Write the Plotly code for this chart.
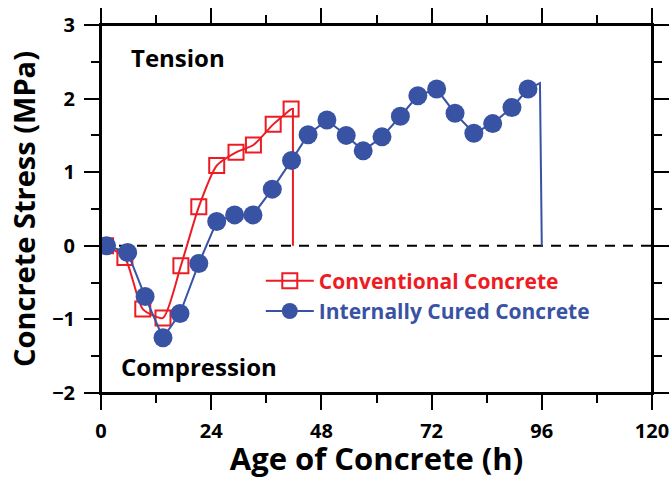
import plotly.graph_objects as go

# Conventional concrete (red squares)
conv_age = [1, 5.2, 9.1, 13.5, 17.4, 21.3, 25.2, 29.4, 33.2, 37.5, 41.4]
conv_stress = [0.0, -0.16, -0.86, -0.98, -0.27, 0.53, 1.09, 1.27, 1.37, 1.65, 1.86]
conv_end_age = [41.4, 41.8, 41.8]
conv_end_stress = [1.86, 1.86, 0.0]

# Internally cured concrete (blue circles)
ic_age = [1.2, 5.8, 9.6, 13.5, 17.2, 21.3, 25.2, 29.1, 33.1, 37.3, 41.5, 45.1,
          49.2, 53.4, 57.1, 61.2, 65.2, 69.0, 73.1, 77.1, 81.2, 85.3, 89.5, 93.0]
ic_stress = [0.0, -0.09, -0.69, -1.25, -0.92, -0.24, 0.33, 0.42, 0.42, 0.77, 1.16, 1.51,
             1.71, 1.50, 1.29, 1.48, 1.76, 2.04, 2.13, 1.80, 1.53, 1.66, 1.88, 2.13]
ic_end_age = [93.0, 95.6, 96.0]
ic_end_stress = [2.13, 2.21, 0.0]

RED = '#ED1C24'
BLUE = '#3953A4'
FONT = 'Open Sans'

fig = go.Figure()

# zero line
fig.add_trace(go.Scatter(x=[0, 120], y=[0, 0], mode='lines',
                         line=dict(color='black', width=2, dash='10px,8px'),
                         showlegend=False, hoverinfo='skip'))

# drop-off lines at end of each test
fig.add_trace(go.Scatter(x=conv_end_age, y=conv_end_stress, mode='lines',
                         line=dict(color=RED, width=2), showlegend=False))
fig.add_trace(go.Scatter(x=ic_end_age, y=ic_end_stress, mode='lines',
                         line=dict(color=BLUE, width=2), showlegend=False))

fig.add_trace(go.Scatter(
    x=conv_age, y=conv_stress, mode='lines+markers',
    name='<span style="color:%s">Conventional Concrete</span>' % RED,
    line=dict(color=RED, width=2, shape='spline', smoothing=0.6),
    marker=dict(symbol='square-open', size=15, color=RED, line=dict(width=2)),
))
fig.add_trace(go.Scatter(
    x=ic_age, y=ic_stress, mode='lines+markers',
    name='<span style="color:%s">Internally Cured Concrete</span>' % BLUE,
    line=dict(color=BLUE, width=2),
    marker=dict(symbol='circle', size=19, color=BLUE),
))

axis_common = dict(
    showline=True, linecolor='black', linewidth=2, mirror='allticks',
    ticks='outside', ticklen=15, tickwidth=2, tickcolor='black',
    showgrid=False, zeroline=False, automargin=False,
    tickfont=dict(family=FONT, size=20, color='black', weight='bold'),
)

fig.update_xaxes(
    range=[0, 120], tickvals=[0, 24, 48, 72, 96, 120],
    minor=dict(ticks='outside', dtick=12, ticklen=8, tickwidth=2, tickcolor='black', showgrid=False),
    ticklabelstandoff=4,
    title=dict(text='Age of Concrete (h)', font=dict(family=FONT, size=31, color='black', weight='bold'),
               standoff=2),
    **axis_common,
)
fig.update_yaxes(
    range=[-2, 3], tickvals=[-2, -1, 0, 1, 2, 3],
    minor=dict(ticks='outside', dtick=0.5, ticklen=8, tickwidth=2, tickcolor='black', showgrid=False),
    ticklabelstandoff=5,
    title=dict(text='Concrete Stress (MPa)', font=dict(family=FONT, size=29, color='black', weight='bold'),
               standoff=8),
    **axis_common,
)

# frame lines overshoot the corners a little
ox = 15 / 551
oy = 15 / 368
for x0, y0, x1, y1 in [(0, -oy, 0, 1 + oy), (1, -oy, 1, 1 + oy),
                       (-ox, 0, 1 + ox, 0), (-ox, 1, 1 + ox, 1)]:
    fig.add_shape(type='line', xref='paper', yref='paper', x0=x0, y0=y0, x1=x1, y1=y1,
                  line=dict(color='black', width=2))

fig.add_annotation(text='Tension', xref='paper', yref='paper', x=0.051, y=0.913,
                   xanchor='left', yanchor='middle', showarrow=False,
                   font=dict(family=FONT, size=24, color='black', weight='bold'))
fig.add_annotation(text='Compression', xref='paper', yref='paper', x=0.032, y=0.071,
                   xanchor='left', yanchor='middle', showarrow=False,
                   font=dict(family=FONT, size=24, color='black', weight='bold'))

fig.update_layout(
    width=671, height=479,
    margin=dict(l=101, r=19, t=25, b=86),
    plot_bgcolor='white', paper_bgcolor='white',
    showlegend=True,
    legend=dict(x=0.29, y=0.36, xanchor='left', yanchor='top',
                bgcolor='rgba(0,0,0,0)', borderwidth=0,
                font=dict(family=FONT, size=21, weight='bold'),
                itemwidth=48),
)

fig.write_html("out.html", config={'displayModeBar': False},
               post_script="document.body.style.margin='0';")
